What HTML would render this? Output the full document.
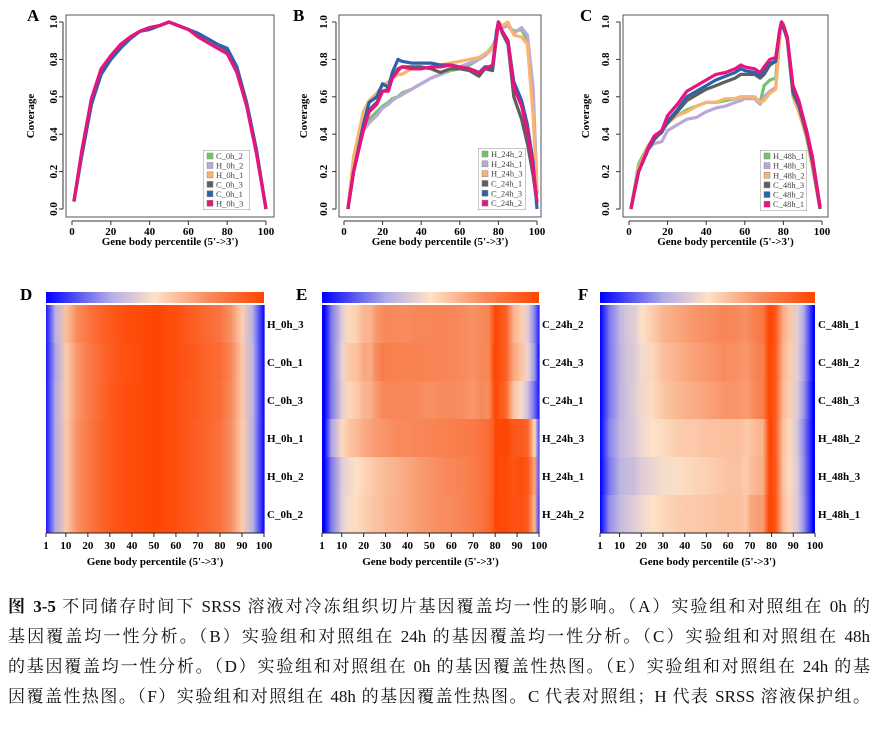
<!DOCTYPE html>
<html><head><meta charset="utf-8">
<style>
html,body{margin:0;padding:0;background:#fff;width:877px;height:738px;overflow:hidden}
svg text{font-family:"Liberation Serif","Noto Serif CJK SC",serif}
#cap{position:absolute;left:8px;top:592px;width:862px;font-family:"Liberation Serif","Noto Serif CJK SC",serif;font-size:17px;color:#111}
#cap div{height:30px;line-height:30px;text-align:justify;text-align-last:justify;white-space:nowrap}
</style></head>
<body>
<svg id="fig" width="877" height="592" style="position:absolute;left:0;top:0"></svg>
<div id="cap">
<div><b>图 3-5</b> 不同储存时间下 SRSS 溶液对冷冻组织切片基因覆盖均一性的影响。（A）实验组和对照组在 0h 的</div>
<div>基因覆盖均一性分析。（B）实验组和对照组在 24h 的基因覆盖均一性分析。（C）实验组和对照组在 48h</div>
<div>的基因覆盖均一性分析。（D）实验组和对照组在 0h 的基因覆盖性热图。（E）实验组和对照组在 24h 的基</div>
<div>因覆盖性热图。（F）实验组和对照组在 48h 的基因覆盖性热图。C 代表对照组；H 代表 SRSS 溶液保护组。</div>
</div>
<script>
// ---------- data ----------
const xA = [1,5,10,15,20,25,30,35,40,45,50,55,60,65,70,75,80,85,90,95,100];
const A_C0h2 = [0.04,0.29,0.57,0.73,0.81,0.87,0.92,0.95,0.97,0.98,1.0,0.98,0.96,0.93,0.9,0.87,0.84,0.74,0.56,0.31,0.0];
const A_H0h2 = [0.04,0.29,0.57,0.73,0.81,0.87,0.92,0.95,0.97,0.98,1.0,0.98,0.96,0.93,0.9,0.87,0.84,0.74,0.56,0.31,0.0];
const A_H0h1 = [0.04,0.29,0.57,0.73,0.81,0.87,0.92,0.95,0.97,0.98,1.0,0.98,0.96,0.93,0.9,0.87,0.84,0.74,0.56,0.31,0.0];
const A_C0h3 = [0.04,0.29,0.56,0.72,0.80,0.86,0.92,0.95,0.97,0.98,1.0,0.98,0.96,0.93,0.91,0.88,0.85,0.75,0.57,0.32,0.0];
const A_C0h1 = [0.04,0.28,0.56,0.72,0.80,0.86,0.91,0.95,0.96,0.98,1.0,0.98,0.96,0.94,0.91,0.88,0.86,0.76,0.57,0.32,0.0];
const A_H0h3 = [0.04,0.31,0.59,0.75,0.82,0.88,0.92,0.95,0.97,0.98,1.0,0.98,0.96,0.92,0.89,0.86,0.83,0.73,0.55,0.30,0.0];

const xB = [2,5,10,13,17,20,23,25,28,30,35,40,45,50,55,60,65,70,73,77,79,80,82,85,88,92,95,98,100];
const B_H24h2 = [0,0.2,0.43,0.48,0.52,0.55,0.57,0.59,0.6,0.62,0.64,0.67,0.7,0.72,0.74,0.75,0.77,0.8,0.82,0.87,0.92,1.0,0.98,0.98,0.95,0.96,0.9,0.6,0.08];
const B_H24h1 = [0,0.2,0.42,0.46,0.5,0.54,0.56,0.58,0.6,0.61,0.64,0.67,0.7,0.72,0.75,0.76,0.78,0.8,0.82,0.86,0.92,1.0,0.97,0.98,0.94,0.97,0.93,0.65,0.12];
const B_H24h3 = [0,0.28,0.52,0.58,0.62,0.66,0.68,0.7,0.72,0.72,0.75,0.75,0.76,0.77,0.78,0.79,0.8,0.81,0.83,0.86,0.9,1.0,0.98,1.0,0.93,0.92,0.88,0.5,0.1];
const B_C24h1 = [0,0.2,0.43,0.53,0.57,0.63,0.64,0.7,0.75,0.76,0.76,0.76,0.75,0.73,0.75,0.75,0.74,0.71,0.75,0.74,0.92,1.0,0.94,0.88,0.6,0.48,0.35,0.18,0.03];
const B_C24h3 = [0,0.2,0.45,0.57,0.6,0.67,0.65,0.73,0.8,0.79,0.78,0.78,0.78,0.77,0.77,0.76,0.75,0.73,0.76,0.76,0.95,1.0,0.95,0.9,0.68,0.58,0.45,0.25,0.0];
const B_C24h2 = [0,0.2,0.42,0.52,0.56,0.63,0.63,0.7,0.74,0.76,0.75,0.75,0.76,0.76,0.77,0.76,0.75,0.73,0.75,0.77,0.92,1.0,0.95,0.9,0.65,0.55,0.42,0.22,0.04];

const xC = [1,5,10,13,17,20,25,30,35,40,45,50,55,58,60,65,68,70,73,76,78,79,80,82,85,88,92,95,99];
const C_H48h1 = [0,0.24,0.34,0.38,0.42,0.46,0.5,0.53,0.55,0.57,0.57,0.58,0.59,0.6,0.6,0.6,0.57,0.66,0.69,0.7,0.92,1.0,0.99,0.92,0.62,0.53,0.4,0.24,0.0];
const C_H48h2 = [0,0.2,0.32,0.35,0.36,0.42,0.45,0.48,0.49,0.52,0.54,0.55,0.57,0.58,0.59,0.59,0.56,0.6,0.63,0.65,0.9,1.0,0.98,0.91,0.6,0.52,0.4,0.23,0.0];
const C_H48h3 = [0,0.22,0.34,0.37,0.41,0.46,0.5,0.52,0.55,0.57,0.57,0.59,0.59,0.6,0.6,0.6,0.57,0.58,0.62,0.64,0.9,1.0,0.98,0.9,0.6,0.52,0.38,0.22,0.0];
const C_C48h3 = [0,0.2,0.32,0.37,0.42,0.46,0.52,0.58,0.61,0.64,0.66,0.68,0.7,0.72,0.72,0.72,0.7,0.72,0.77,0.79,0.95,1.0,0.97,0.91,0.62,0.55,0.4,0.25,0.0];
const C_C48h2 = [0,0.2,0.32,0.38,0.41,0.47,0.53,0.6,0.63,0.66,0.69,0.71,0.73,0.75,0.74,0.73,0.71,0.74,0.78,0.79,0.95,1.0,0.97,0.91,0.64,0.56,0.42,0.27,0.01];
const C_C48h1 = [0,0.2,0.33,0.39,0.42,0.5,0.56,0.63,0.66,0.69,0.72,0.73,0.75,0.77,0.76,0.75,0.73,0.76,0.8,0.81,0.95,1.0,0.98,0.92,0.66,0.58,0.42,0.28,0.01];

const yTicks = [0,0.2,0.4,0.6,0.8,1.0];
const yTickLabels = ["0.0","0.2","0.4","0.6","0.8","1.0"];
const xTicks = [0,20,40,60,80,100];
const hxTicks = [1,10,20,30,40,50,60,70,80,90,100];
const colors = {green:"#74c26a",purple:"#b9a9d9",orange:"#f9b46e",gray:"#5e5e5e",blue:"#2d62ab",pink:"#e8137e"};

const NS="http://www.w3.org/2000/svg";
const svg=document.getElementById('fig');
function mk(tag,attrs,parent){const e=document.createElementNS(NS,tag);for(const k in attrs)e.setAttribute(k,attrs[k]);(parent||svg).appendChild(e);return e;}
function txt(s,attrs,parent){const e=mk('text',attrs,parent);e.textContent=s;return e;}

// ---------- line panels ----------
function linePanel(cfg){
  const g=mk('g',{});
  
  
  const X=v=>cfg.x0+(v/100)*(cfg.x1-cfg.x0);
  const Y=v=>cfg.y0+v*(cfg.y1-cfg.y0);
  const box=mk('rect',{x:cfg.box[0],y:cfg.box[1],width:cfg.box[2]-cfg.box[0],height:cfg.box[3]-cfg.box[1],fill:'none',stroke:'#555','stroke-width':1},g);
  
  
  const L=txt(cfg.letter,{x:cfg.lx,y:21,'font-size':17,'font-weight':'bold'},g);
  
  
  const bl=cfg.box[0]-3;
  mk('line',{x1:bl,x2:bl,y1:Y(0),y2:Y(1),stroke:'#333'},g);
  yTicks.forEach((t,i)=>{
    mk('line',{x1:bl,x2:bl-4,y1:Y(t),y2:Y(t),stroke:'#333'},g);
    const lab=txt(yTickLabels[i],{x:cfg.ytx,y:Y(t),'font-size':11,'font-weight':'bold','text-anchor':'middle',transform:`rotate(-90 ${cfg.ytx} ${Y(t)})`},g);
    
    
  });
  const ab=cfg.box[3]+4;
  mk('line',{x1:X(0),x2:X(100),y1:ab,y2:ab,stroke:'#333'},g);
  xTicks.forEach(t=>{
    mk('line',{x1:X(t),x2:X(t),y1:ab,y2:ab+4,stroke:'#333'},g);
    const lab=txt(String(t),{x:X(t),y:ab+14,'font-size':11,'font-weight':'bold','text-anchor':'middle'},g);
    
    
  });
  const xt=txt("Gene body percentile (5'->3')",{x:(cfg.box[0]+cfg.box[2])/2,y:245,'font-size':11,'font-weight':'bold','text-anchor':'middle'},g);
  
  
  const cy=116;
  const yt=txt('Coverage',{x:cfg.ctx,y:cy,'font-size':11,'font-weight':'bold','text-anchor':'middle',transform:`rotate(-90 ${cfg.ctx} ${cy})`},g);
  
  
  cfg.series.forEach(s=>{
    const d=s.vals.map((v,i)=>(i?'L':'M')+X(cfg.xs[i]).toFixed(1)+','+Y(v).toFixed(1)).join('');
    const p=mk('path',{d:d,fill:'none',stroke:colors[s.c],'stroke-width':3.2,'stroke-linejoin':'round'},g);
    
    
  });
  const [lx0,ly0,lx1,ly1]=cfg.leg;
  const cid='clip'+cfg.letter;
  const cp=mk('clipPath',{id:cid},g);
  mk('rect',{x:lx0,y:ly0,width:lx1-lx0,height:ly1-ly0},cp);
  const lg=mk('g',{'clip-path':`url(#${cid})`},g);
  
  
  mk('rect',{x:lx0,y:ly0,width:lx1-lx0,height:ly1-ly0,fill:'#fff',stroke:'#777','stroke-width':0.8},lg);
  cfg.series.forEach((s,i)=>{
    const yy=ly0+6+i*((ly1-ly0-8)/5.5);
    const e=mk('g',{},lg);
    
    
    mk('rect',{x:lx0+4,y:yy-3,width:6,height:6,fill:colors[s.c],stroke:'#888','stroke-width':0.5},e);
    txt(s.n,{x:lx0+13,y:yy+3,'font-size':8.5,fill:'#444'},e);
  });
}

linePanel({name:'panel-a-coverage',letter:'A',lx:27,box:[66,15,274,217],x0:72,x1:266,y0:209,y1:22,ytx:57,ctx:34,leg:[203,150,250,210],xs:xA,
 series:[{n:'C_0h_2',c:'green',vals:A_C0h2},{n:'H_0h_2',c:'purple',vals:A_H0h2},{n:'H_0h_1',c:'orange',vals:A_H0h1},{n:'C_0h_3',c:'gray',vals:A_C0h3},{n:'C_0h_1',c:'blue',vals:A_C0h1},{n:'H_0h_3',c:'pink',vals:A_H0h3}]});
linePanel({name:'panel-b-coverage',letter:'B',lx:293,box:[339,15,541,217],x0:344,x1:537,y0:209,y1:22,ytx:327,ctx:307,leg:[478,148,526,210],xs:xB,
 series:[{n:'H_24h_2',c:'green',vals:B_H24h2},{n:'H_24h_1',c:'purple',vals:B_H24h1},{n:'H_24h_3',c:'orange',vals:B_H24h3},{n:'C_24h_1',c:'gray',vals:B_C24h1},{n:'C_24h_3',c:'blue',vals:B_C24h3},{n:'C_24h_2',c:'pink',vals:B_C24h2}]});
linePanel({name:'panel-c-coverage',letter:'C',lx:580,box:[623,15,828,217],x0:629,x1:822,y0:209,y1:22,ytx:609,ctx:589,leg:[760,150,807,211],xs:xC,
 series:[{n:'H_48h_1',c:'green',vals:C_H48h1},{n:'H_48h_3',c:'purple',vals:C_H48h2},{n:'H_48h_2',c:'orange',vals:C_H48h3},{n:'C_48h_3',c:'gray',vals:C_C48h3},{n:'C_48h_2',c:'blue',vals:C_C48h2},{n:'C_48h_1',c:'pink',vals:C_C48h1}]});

// ---------- heatmaps ----------
const stops=[[0,[0,0,255]],[0.3,[180,174,230]],[0.5,[253,226,200]],[0.75,[248,138,92]],[1,[255,68,0]]];
function heat(v){
  v=Math.max(0,Math.min(1,v));
  for(let i=1;i<stops.length;i++){
    if(v<=stops[i][0]){const a=stops[i-1],b=stops[i];const t=(v-a[0])/(b[0]-a[0]);
      const c=a[1].map((x,k)=>Math.round(x+(b[1][k]-x)*t));return `rgb(${c})`;}
  }
  return 'rgb(255,68,0)';
}
let gid=0;
const defs=mk('defs',{});
function heatPanel(cfg){
  const g=mk('g',{});
  
  
  const X=v=>cfg.x0+(v-1)/99*(cfg.x1-cfg.x0);
  const L=txt(cfg.letter,{x:cfg.lx,y:300,'font-size':17,'font-weight':'bold'},g);
  
  
  const cbg=mk('linearGradient',{id:'cb'+cfg.letter,x1:0,x2:1,y1:0,y2:0},defs);
  stops.forEach(s=>mk('stop',{offset:s[0],'stop-color':`rgb(${s[1]})`},cbg));
  const cb=mk('rect',{x:cfg.x0,y:292,width:cfg.x1-cfg.x0,height:11,fill:`url(#cb${cfg.letter})`},g);
  
  
  const top=305,rh=38;
  cfg.rows.forEach((r,ri)=>{
    const y=top+ri*rh;
    const rg=mk('g',{},g);
    
    
    const xs=r.xs,vals=r.vals;
    if(xs[0]>1){const c=mk('rect',{x:cfg.x0,y:y,width:X(xs[0])-cfg.x0+0.5,height:rh,fill:heat(vals[0])},rg);
      
      }
    for(let i=0;i<xs.length-1;i++){
      const id='hg'+(gid++);
      const lg=mk('linearGradient',{id:id,x1:0,x2:1,y1:0,y2:0},defs);
      mk('stop',{offset:0,'stop-color':heat(vals[i])},lg);
      mk('stop',{offset:1,'stop-color':heat(vals[i+1])},lg);
      const c=mk('rect',{x:X(xs[i]),y:y,width:X(xs[i+1])-X(xs[i])+0.6,height:rh,fill:`url(#${id})`},rg);
      
      
    }
    const last=xs[xs.length-1];
    if(last<100){const c=mk('rect',{x:X(last),y:y,width:cfg.x1-X(last),height:rh,fill:heat(vals[vals.length-1])},rg);
      
      }
    const lab=txt(r.n,{x:cfg.x1+3,y:y+rh/2+4,'font-size':11,'font-weight':'bold'},g);
    
    
  });
  const bot=top+6*rh;
  mk('line',{x1:cfg.x0,x2:cfg.x1,y1:bot,y2:bot,stroke:'#222'},g);
  hxTicks.forEach(t=>{
    mk('line',{x1:X(t),x2:X(t),y1:bot,y2:bot+4,stroke:'#222'},g);
    const lab=txt(String(t),{x:X(t),y:bot+16,'font-size':11,'font-weight':'bold','text-anchor':'middle'},g);
    
    
  });
  const xt=txt("Gene body percentile (5'->3')",{x:(cfg.x0+cfg.x1)/2,y:565,'font-size':11,'font-weight':'bold','text-anchor':'middle'},g);
  
  
}
heatPanel({name:'panel-d-heatmap',letter:'D',lx:20,x0:46,x1:264,rows:[
 {n:'H_0h_3',xs:xA,vals:A_H0h3},{n:'C_0h_1',xs:xA,vals:A_C0h1},{n:'C_0h_3',xs:xA,vals:A_C0h3},
 {n:'H_0h_1',xs:xA,vals:A_H0h1},{n:'H_0h_2',xs:xA,vals:A_H0h2},{n:'C_0h_2',xs:xA,vals:A_C0h2}]});
heatPanel({name:'panel-e-heatmap',letter:'E',lx:296,x0:322,x1:539,rows:[
 {n:'C_24h_2',xs:xB,vals:B_C24h2},{n:'C_24h_3',xs:xB,vals:B_C24h3},{n:'C_24h_1',xs:xB,vals:B_C24h1},
 {n:'H_24h_3',xs:xB,vals:B_H24h3},{n:'H_24h_1',xs:xB,vals:B_H24h1},{n:'H_24h_2',xs:xB,vals:B_H24h2}]});
heatPanel({name:'panel-f-heatmap',letter:'F',lx:578,x0:600,x1:815,rows:[
 {n:'C_48h_1',xs:xC,vals:C_C48h1},{n:'C_48h_2',xs:xC,vals:C_C48h2},{n:'C_48h_3',xs:xC,vals:C_C48h3},
 {n:'H_48h_2',xs:xC,vals:C_H48h3},{n:'H_48h_3',xs:xC,vals:C_H48h2},{n:'H_48h_1',xs:xC,vals:C_H48h1}]});
</script>
</body></html>
